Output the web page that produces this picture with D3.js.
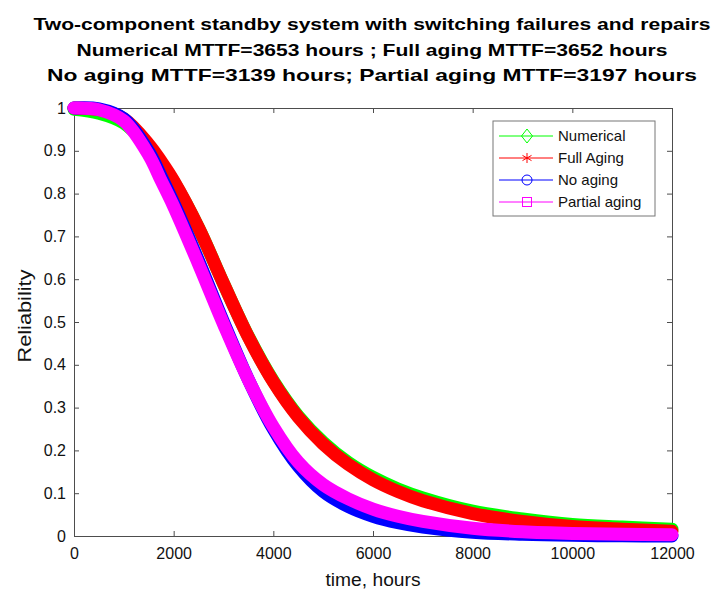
<!DOCTYPE html>
<html>
<head>
<meta charset="utf-8">
<script src="https://cdn.jsdelivr.net/npm/d3@7"></script>
<style>
  body { margin: 0; background: #fff; }
</style>
</head>
<body>
<div id="chart"></div>
<script>
// data
const timeHours   = [0, 500, 1000, 1500, 1750, 2000, 2500, 3000, 3500, 4000, 4500, 5000, 5500, 6000, 6500, 7000, 8000, 9000, 10000, 11000, 12000];
const numerical   = [0.997, 0.988, 0.965, 0.908, 0.871, 0.828, 0.72, 0.59, 0.466, 0.362, 0.28, 0.219, 0.172, 0.137, 0.11, 0.089, 0.058, 0.04, 0.027, 0.021, 0.016];
const fullAging   = [1, 0.996, 0.975, 0.915, 0.875, 0.83, 0.72, 0.59, 0.465, 0.36, 0.2775, 0.215, 0.1675, 0.1315, 0.104, 0.0825, 0.0525, 0.034, 0.022, 0.016, 0.011];
const noAging     = [1, 0.998, 0.975, 0.898, 0.84, 0.778, 0.643, 0.5, 0.365, 0.25, 0.163, 0.104, 0.069, 0.046, 0.031, 0.021, 0.009, 0.004, 0.0015, 0.0005, 0];
const partialAging= [1, 0.996, 0.97, 0.89, 0.83, 0.77, 0.635, 0.495, 0.365, 0.255, 0.1725, 0.12, 0.087, 0.063, 0.046, 0.034, 0.018, 0.01, 0.006, 0.004, 0.003];

const seriesNames  = ["Numerical", "Full Aging", "No aging", "Partial aging"];
const seriesColors = ["#00ff00", "#ff0000", "#0000ff", "#ff00ff"];
const seriesMarks  = ["diamond", "asterisk", "circle", "square"];

const xTicks = [0, 2000, 4000, 6000, 8000, 10000, 12000];
const yTicks = [0, 0.1, 0.2, 0.3, 0.4, 0.5, 0.6, 0.7, 0.8, 0.9, 1];

const titleLines = [
  "Two-component standby system with switching failures and repairs",
  "Numerical MTTF=3653 hours ; Full aging MTTF=3652 hours",
  "No aging MTTF=3139 hours; Partial aging MTTF=3197 hours"
];

const series = [numerical, fullAging, noAging, partialAging].map((vals, i) => ({
  name: seriesNames[i],
  color: seriesColors[i],
  mark: seriesMarks[i],
  values: timeHours.map((t, j) => ({t: t, r: vals[j]}))
}));

// set the dimensions and margins of the graph
const W = 714, H = 593;
const margin = {top: 108, right: 42, bottom: 57, left: 74},
    width = W - margin.left - margin.right,
    height = H - margin.top - margin.bottom;

const svg0 = d3.select("#chart")
    .append("svg")
    .attr("width", W)
    .attr("height", H);

const svg = svg0.append("g")
    .attr("transform", `translate(${margin.left},${margin.top})`);

const x = d3.scaleLinear().domain([0, 12000]).range([0, width]);
const y = d3.scaleLinear().domain([0, 1]).range([height, 0]);

const font = "'Liberation Sans', Arial, sans-serif";
const axisColor = "#4d4d4d";

// axes, ticks pointing inward like matlab
svg.append("g")
    .attr("transform", `translate(0,${height})`)
    .call(d3.axisBottom(x).tickValues(xTicks).tickSizeInner(-5).tickSizeOuter(0).tickPadding(12).tickFormat(d3.format("d")));
svg.append("g")
    .call(d3.axisLeft(y).tickValues(yTicks).tickSizeInner(-5).tickSizeOuter(0).tickPadding(8).tickFormat(d3.format("~g")));
svg.append("g")
    .call(d3.axisTop(x).tickValues(xTicks).tickSizeInner(-5).tickSizeOuter(0).tickFormat(""));
svg.append("g")
    .attr("transform", `translate(${width},0)`)
    .call(d3.axisRight(y).tickValues(yTicks).tickSizeInner(-5).tickSizeOuter(0).tickFormat(""));

svg.selectAll(".domain, .tick line").attr("stroke", axisColor);
svg.selectAll(".tick text")
    .style("font-family", font)
    .style("font-size", "16px")
    .attr("fill", "#111");

// curves (dense markers in the original -> thick bands)
const line = d3.line()
    .x(d => x(d.t))
    .y(d => y(d.r))
    .curve(d3.curveCatmullRom.alpha(0.5));

svg.append("g")
    .selectAll("path")
    .data(series)
    .join("path")
    .attr("d", d => line(d.values))
    .attr("fill", "none")
    .attr("stroke", d => d.color)
    .attr("stroke-width", 13)
    .attr("stroke-linecap", "round")
    .attr("stroke-linejoin", "round");

// axis labels
svg.append("text")
    .attr("x", width / 2)
    .attr("y", height + 50)
    .attr("text-anchor", "middle")
    .style("font-family", font)
    .style("font-size", "18px")
    .attr("fill", "#111")
    .attr("textLength", 95)
    .attr("lengthAdjust", "spacingAndGlyphs")
    .text("time, hours");

svg.append("text")
    .attr("transform", "rotate(-90)")
    .attr("x", -(316 - margin.top))
    .attr("y", -43)
    .attr("text-anchor", "middle")
    .style("font-family", font)
    .style("font-size", "18px")
    .attr("fill", "#111")
    .attr("textLength", 93)
    .attr("lengthAdjust", "spacingAndGlyphs")
    .text("Reliability");

// title
const titleWidths = [677, 591, 650];
svg0.selectAll(".title")
    .data(titleLines)
    .join("text")
    .attr("class", "title")
    .attr("x", 372)
    .attr("y", (d, i) => 30 + i * 25.5)
    .attr("text-anchor", "middle")
    .style("font-family", font)
    .style("font-weight", "bold")
    .style("font-size", "17px")
    .attr("fill", "#000")
    .text(d => d)
    .attr("textLength", (d, i) => titleWidths[i])
    .attr("lengthAdjust", "spacingAndGlyphs");

// legend
const lx = 493 - margin.left, ly = 121 - margin.top;
svg.append("rect")
    .attr("x", lx)
    .attr("y", ly)
    .attr("width", 162)
    .attr("height", 95)
    .attr("fill", "#fff")
    .attr("stroke", "#777");

const legend = svg.selectAll(".legend")
    .data(series)
    .join("g")
    .attr("class", "legend")
    .attr("transform", (d, i) => `translate(${lx}, ${ly + 15 + i * 22})`);

legend.append("line")
    .attr("x1", 6).attr("x2", 60)
    .attr("stroke", d => d.color)
    .attr("stroke-width", 1);

legend.each(function (d) {
    const g = d3.select(this).append("g").attr("transform", "translate(34,0)")
        .attr("fill", "none").attr("stroke", d.color).attr("stroke-width", 1);
    if (d.mark === "diamond") {
        g.append("path").attr("d", "M0,-7L5.5,0L0,7L-5.5,0Z");
    } else if (d.mark === "asterisk") {
        g.append("path").attr("d", "M0,-5V5M-4.5,-2.6L4.5,2.6M-4.5,2.6L4.5,-2.6");
    } else if (d.mark === "circle") {
        g.append("circle").attr("r", 5);
    } else {
        g.append("rect").attr("x", -4.5).attr("y", -4.5).attr("width", 9).attr("height", 9);
    }
});

legend.append("text")
    .attr("x", 65)
    .attr("dy", "0.36em")
    .style("font-family", font)
    .style("font-size", "15px")
    .attr("fill", "#111")
    .text(d => d.name);
</script>
</body>
</html>
